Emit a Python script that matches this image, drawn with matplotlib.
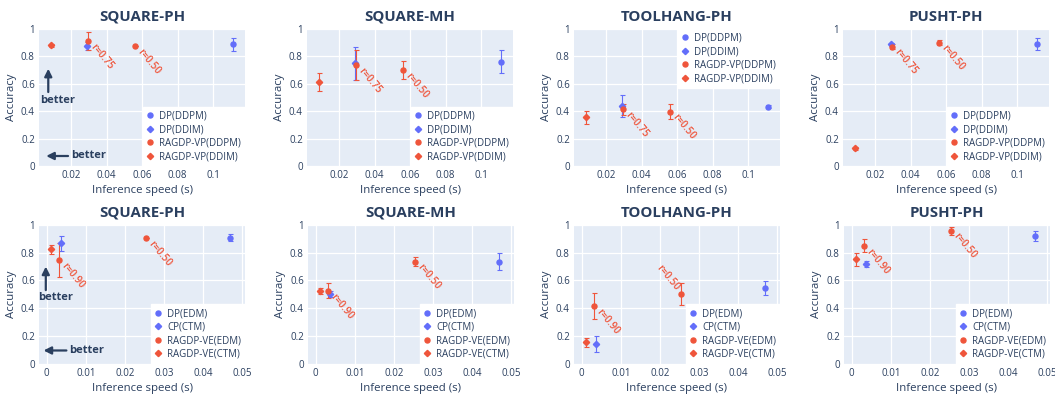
import matplotlib
matplotlib.use("Agg")
import matplotlib.pyplot as plt
from matplotlib.lines import Line2D

plt.rcParams['font.family'] = ['Open Sans', 'DejaVu Sans']

BLUE = '#636EFA'
RED = '#EF553B'
TXT = '#2a3f5f'
BG = '#E5ECF6'

titles = ['SQUARE-PH', 'SQUARE-MH', 'TOOLHANG-PH', 'PUSHT-PH']

# ---------------- top row (VP) ----------------
top_names = ['DP(DDPM)', 'DP(DDIM)', 'RAGDP-VP(DDPM)', 'RAGDP-VP(DDIM)']
top_dp_ddpm_speed = [0.111]
top_dp_ddim_speed = [0.0287]
top_rag_ddpm_speed = [0.0295, 0.0557]
top_rag_ddim_speed = [0.0088]
top_rag_labels = ['r=0.75', 'r=0.50']

top_dp_ddpm_acc = [[0.889], [0.762], [0.433], [0.890]]
top_dp_ddpm_err = [[0.048], [0.083], [0.010], [0.043]]
top_dp_ddim_acc = [[0.877], [0.749], [0.438], [0.888]]
top_dp_ddim_err = [[0.030], [0.120], [0.082], [0.010]]
top_rag_ddpm_acc = [[0.913, 0.877], [0.737, 0.700], [0.414, 0.397], [0.871, 0.900]]
top_rag_ddpm_err = [[0.065, 0.0], [0.110, 0.066], [0.040, 0.055], [0.020, 0.020]]
top_rag_ddim_acc = [[0.882], [0.611], [0.355], [0.129]]
top_rag_ddim_err = [[0.010], [0.066], [0.046], [0.012]]
top_xticks = [0.02, 0.04, 0.06, 0.08, 0.1]
top_xticklabels = ['0.02', '0.04', '0.06', '0.08', '0.1']

# ---------------- bottom row (VE) ----------------
bot_names = ['DP(EDM)', 'CP(CTM)', 'RAGDP-VE(EDM)', 'RAGDP-VE(CTM)']
bot_dp_edm_speed = [0.047]
bot_cp_ctm_speed = [0.0036]
bot_rag_edm_speed = [0.0030, 0.0255]
bot_rag_ctm_speed = [0.0012]
bot_rag_labels = ['r=0.90', 'r=0.50']

bot_dp_edm_acc = [[0.908], [0.735], [0.547], [0.923]]
bot_dp_edm_err = [[0.024], [0.063], [0.052], [0.035]]
bot_cp_ctm_acc = [[0.867], [0.501], [0.140], [0.718]]
bot_cp_ctm_err = [[0.056], [0.020], [0.057], [0.023]]
bot_rag_edm_acc = [[0.747, 0.908], [0.525, 0.735], [0.414, 0.501], [0.850, 0.959]]
bot_rag_edm_err = [[0.123, 0.0], [0.054, 0.031], [0.096, 0.080], [0.047, 0.030]]
bot_rag_ctm_acc = [[0.824], [0.525], [0.152], [0.752]]
bot_rag_ctm_err = [[0.030], [0.020], [0.030], [0.048]]
bot_xticks = [0, 0.01, 0.02, 0.03, 0.04, 0.05]
bot_xticklabels = ['0', '0.01', '0.02', '0.03', '0.04', '0.05']

yticks = [0, 0.2, 0.4, 0.6, 0.8, 1]
yticklabels = ['0', '0.2', '0.4', '0.6', '0.8', '1']

W, H = 1055, 398
fig = plt.figure(figsize=(W / 100, H / 100), dpi=100)

top_left = [39, 307, 574, 843]
bot_left = [39, 308, 574, 844]
AW = 206


def make_ax(left, top, bottom):
    return fig.add_axes([left / W, 1 - bottom / H, AW / W, (bottom - top) / H])


def style(ax, xlim, xticks, xticklabels, title):
    ax.set_facecolor(BG)
    for s in ax.spines.values():
        s.set_visible(False)
    ax.set_xlim(*xlim)
    ax.set_ylim(0, 1)
    ax.set_xticks(xticks)
    ax.set_xticklabels(xticklabels)
    ax.set_yticks(yticks)
    ax.set_yticklabels(yticklabels)
    ax.grid(True, color='white', linewidth=0.9)
    ax.set_axisbelow(True)
    ax.tick_params(length=0, labelsize=7.0, labelcolor=TXT, pad=3)
    ax.set_xlabel('Inference speed (s)', fontsize=8.2, color=TXT, labelpad=3)
    ax.set_ylabel('Accuracy', fontsize=8.2, color=TXT, labelpad=3)
    ax.set_title(title, fontsize=10.8, fontweight='bold', color=TXT, pad=6)


def series(ax, xs, ys, es, color, marker, ms):
    ax.errorbar(xs, ys, yerr=es, fmt=marker, color=color, ms=ms, mec=color,
                elinewidth=0.8, capsize=1.8, capthick=0.8, zorder=3)


def legend(ax, names, loc):
    handles = [
        Line2D([], [], ls='none', marker='o', color=BLUE, ms=3.6),
        Line2D([], [], ls='none', marker='D', color=BLUE, ms=3.2),
        Line2D([], [], ls='none', marker='o', color=RED, ms=3.6),
        Line2D([], [], ls='none', marker='D', color=RED, ms=3.2),
    ]
    lg = ax.legend(handles, names, loc=loc, borderaxespad=0, fontsize=7.0,
                   frameon=True, fancybox=False, handlelength=0.8,
                   handletextpad=0.5, labelspacing=0.25, borderpad=0.4,
                   labelcolor=TXT)
    lg.get_frame().set_facecolor('white')
    lg.get_frame().set_edgecolor('white')
    lg.get_frame().set_alpha(1)
    lg.set_zorder(5)


def label(ax, x, y, text, side='right'):
    if side == 'right':
        ax.annotate(text, (x, y), xytext=(3.0, -3.0), textcoords='offset points',
                    rotation=-50, rotation_mode='anchor', ha='left', va='center',
                    fontsize=7.2, fontweight='semibold', color=RED, zorder=4)
    else:
        ax.annotate(text, (x, y), xytext=(-3.0, 3.5), textcoords='offset points',
                    rotation=-50, rotation_mode='anchor', ha='right', va='center',
                    fontsize=7.2, fontweight='semibold', color=RED, zorder=4)


def better(ax, up, left):
    (ux, uy0, uy1, tx, ty) = up
    (lx0, lx1, ly, ltx) = left
    ap = dict(arrowstyle='-|>', lw=1.6, color=TXT, mutation_scale=11,
              shrinkA=0, shrinkB=0)
    ax.annotate('', xy=(ux, uy1), xytext=(ux, uy0), xycoords='axes fraction',
                arrowprops=ap, zorder=4)
    ax.text(tx, ty, 'better', transform=ax.transAxes, ha='center', va='center',
            fontsize=8.0, fontweight='bold', color=TXT, zorder=4)
    ax.annotate('', xy=(lx1, ly), xytext=(lx0, ly), xycoords='axes fraction',
                arrowprops=ap, zorder=4)
    ax.text(ltx, ly, 'better', transform=ax.transAxes, ha='left', va='center',
            fontsize=8.0, fontweight='bold', color=TXT, zorder=4)


top_legend_loc = ['lower right', 'lower right', 'upper right', 'lower right']
for i in range(4):
    ax = make_ax(top_left[i], 29, 166)
    style(ax, (0.0018, 0.118), top_xticks, top_xticklabels, titles[i])
    series(ax, top_dp_ddpm_speed, top_dp_ddpm_acc[i], top_dp_ddpm_err[i], BLUE, 'o', 3.6)
    series(ax, top_dp_ddim_speed, top_dp_ddim_acc[i], top_dp_ddim_err[i], BLUE, 'D', 3.2)
    series(ax, top_rag_ddpm_speed, top_rag_ddpm_acc[i], top_rag_ddpm_err[i], RED, 'o', 3.6)
    series(ax, top_rag_ddim_speed, top_rag_ddim_acc[i], top_rag_ddim_err[i], RED, 'D', 3.2)
    for x, y, t in zip(top_rag_ddpm_speed, top_rag_ddpm_acc[i], top_rag_labels):
        label(ax, x, y, t)
    legend(ax, top_names, top_legend_loc[i])
    if i == 0:
        better(ax, (0.045, 0.54, 0.71, 0.091, 0.48), (0.141, 0.035, 0.073, 0.158))

bot_label_side = [['right', 'right'], ['right', 'right'], ['right', 'left'], ['right', 'right']]
for i in range(4):
    ax = make_ax(bot_left[i], 225, 363.5)
    style(ax, (-0.002, 0.0508), bot_xticks, bot_xticklabels, titles[i])
    series(ax, bot_dp_edm_speed, bot_dp_edm_acc[i], bot_dp_edm_err[i], BLUE, 'o', 3.6)
    series(ax, bot_cp_ctm_speed, bot_cp_ctm_acc[i], bot_cp_ctm_err[i], BLUE, 'D', 3.2)
    series(ax, bot_rag_edm_speed, bot_rag_edm_acc[i], bot_rag_edm_err[i], RED, 'o', 3.6)
    series(ax, bot_rag_ctm_speed, bot_rag_ctm_acc[i], bot_rag_ctm_err[i], RED, 'D', 3.2)
    for x, y, t, sd in zip(bot_rag_edm_speed, bot_rag_edm_acc[i], bot_rag_labels, bot_label_side[i]):
        label(ax, x, y, t, sd)
    legend(ax, bot_names, 'lower right')
    if i == 0:
        better(ax, (0.033, 0.53, 0.70, 0.083, 0.474), (0.133, 0.022, 0.094, 0.148))

fig.savefig('out.png', dpi=100)
